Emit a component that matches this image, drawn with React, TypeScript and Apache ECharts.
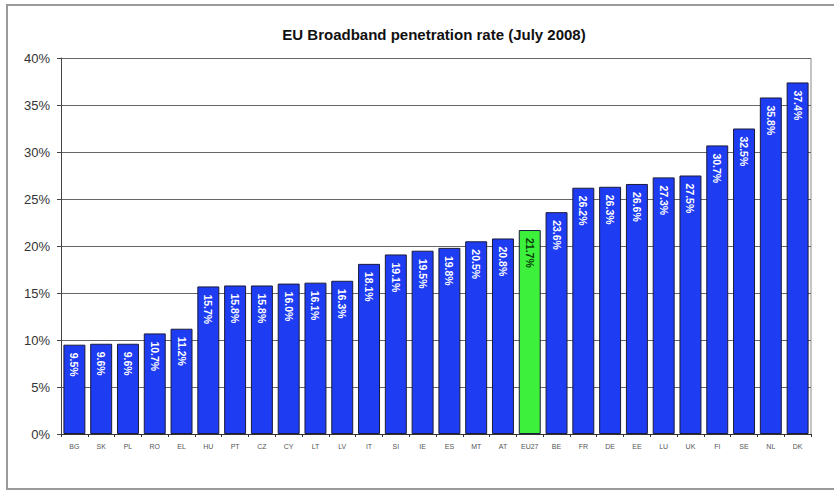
import React, { useEffect, useRef } from "react";
import * as echarts from "echarts";

// EU broadband penetration by country, July 2008 (% of population)
const countries = [
  "BG", "SK", "PL", "RO", "EL", "HU", "PT", "CZ", "CY", "LT", "LV", "IT", "SI", "IE",
  "ES", "MT", "AT", "EU27", "BE", "FR", "DE", "EE", "LU", "UK", "FI", "SE", "NL", "DK",
];
const penetration = [
  9.5, 9.6, 9.6, 10.7, 11.2, 15.7, 15.8, 15.8, 16.0, 16.1, 16.3, 18.1, 19.1, 19.5,
  19.8, 20.5, 20.8, 21.7, 23.6, 26.2, 26.3, 26.6, 27.3, 27.5, 30.7, 32.5, 35.8, 37.4,
];
const averageKey = "EU27";
const yTicks = [0, 5, 10, 15, 20, 25, 30, 35, 40];

const BLUE = "#1e3cf2";
const GREEN = "#3cf03c";
const FONT = "Liberation Sans, Arial, sans-serif";

export default function App() {
  const ref = useRef<HTMLDivElement>(null);

  useEffect(() => {
    document.body.style.margin = "0";
    const chart = echarts.init(ref.current!, null, { renderer: "svg" });
    chart.setOption({
      animation: false,
      backgroundColor: "#ffffff",
      title: {
        text: "EU Broadband penetration rate (July 2008)",
        left: 429,
        top: 22,
        textAlign: "center",
        textStyle: {
          fontFamily: FONT,
          fontSize: 15,
          fontWeight: "bold",
          color: "#111",
        },
      },
      graphic: [
        {
          type: "rect",
          shape: { x: 7, y: 5, width: 840, height: 484 },
          style: { fill: "none", stroke: "#9a9a9a", lineWidth: 2 },
          silent: true,
        },
        {
          type: "line",
          shape: { x1: 811, y1: 58, x2: 811, y2: 434 },
          style: { stroke: "#8a8a8a", lineWidth: 1 },
          silent: true,
        },
      ],
      grid: { left: 61, right: 23, top: 58, bottom: 57 },
      xAxis: {
        type: "category",
        data: countries,
        axisLine: { lineStyle: { color: "#333", width: 1 } },
        axisTick: { show: true, length: 3, lineStyle: { color: "#333" } },
        axisLabel: {
          fontFamily: FONT,
          fontSize: 7,
          color: "#555",
          margin: 9,
          interval: 0,
        },
      },
      yAxis: {
        type: "value",
        min: 0,
        max: 40,
        interval: 5,
        axisLine: { show: true, lineStyle: { color: "#444", width: 1 } },
        axisTick: { show: true, length: 4, lineStyle: { color: "#444" } },
        axisLabel: {
          formatter: (v: number) => (yTicks.includes(v) ? `${v}%` : ""),
          fontFamily: FONT,
          fontSize: 13,
          color: "#333",
          margin: 11,
        },
        splitLine: { lineStyle: { color: "#666", width: 1 } },
      },
      series: [
        {
          type: "bar",
          barCategoryGap: "18%",
          data: penetration.map((v, i) => ({
            value: v,
            itemStyle: {
              color: countries[i] === averageKey ? GREEN : BLUE,
              borderColor: "#1b1b3a",
              borderWidth: 1,
            },
            label: {
              color: countries[i] === averageKey ? "#0b3d0b" : "#ffffff",
            },
          })),
          label: {
            show: true,
            position: "insideTop",
            rotate: -90,
            align: "left",
            verticalAlign: "middle",
            distance: 8,
            formatter: (p: any) => `${p.value.toFixed(1)}%`,
            fontFamily: FONT,
            fontSize: 10.5,
            fontWeight: "bold",
          },
        },
      ],
    });
    return () => chart.dispose();
  }, []);

  return <div ref={ref} style={{ width: 834, height: 491 }} />;
}
